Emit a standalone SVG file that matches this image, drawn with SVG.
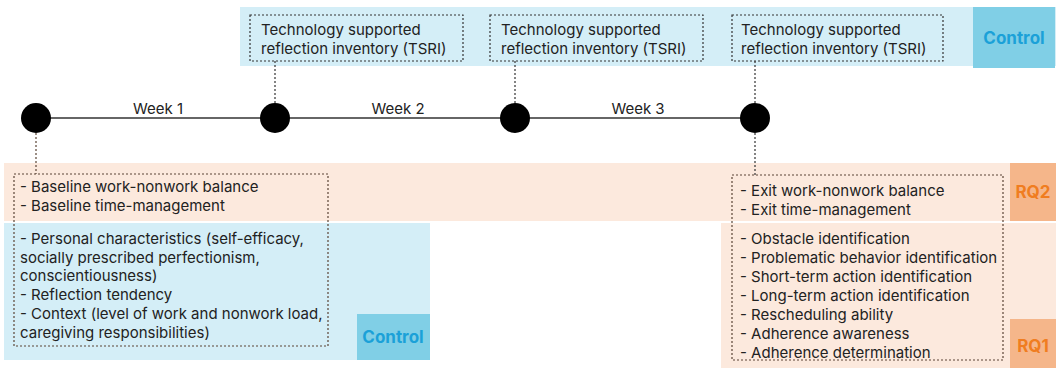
<svg xmlns="http://www.w3.org/2000/svg" width="1062" height="368" viewBox="0 0 1062 368">
<style>
text{font-family:Inter,"Noto Sans","Liberation Sans",sans-serif;font-size:15px;fill:#222}
.lbl{font-weight:700;font-size:17px}
.ctl{fill:#1ba1d8}
.rq{fill:#f07d20}
.dash{fill:none;stroke:#333;stroke-width:1.2;stroke-dasharray:2 2}
.dashb{fill:none;stroke:#5a4536;stroke-width:1.2;stroke-dasharray:2 2}
.blue{fill:#d4eef7}
.blued{fill:#80cfe6}
.peach{fill:#fce9dd}
.peachd{fill:#f5b68a}
</style>
<g id="bands">
<rect class="blue" x="240" y="7" width="816" height="59"/>
<rect class="blued" x="973" y="7" width="82" height="61"/>
<text class="lbl ctl" x="1014" y="44" text-anchor="middle">Control</text>
<rect class="peach" x="4" y="163" width="1006" height="58"/>
<rect class="peachd" x="1010" y="163" width="46" height="58"/>
<text class="lbl rq" x="1033" y="198" text-anchor="middle">RQ2</text>
<rect class="blue" x="4" y="223" width="426" height="137"/>
<rect class="blued" x="357" y="314" width="73" height="46"/>
<text class="lbl ctl" x="393" y="343" text-anchor="middle">Control</text>
<rect class="peach" x="721" y="223" width="335" height="145"/>
<rect class="peachd" x="1010" y="319" width="46" height="49"/>
<text class="lbl rq" x="1033" y="352" text-anchor="middle">RQ1</text>
</g>
<g id="connectors">
<line x1="36" y1="118" x2="755" y2="118" stroke="#333" stroke-width="1.5"/>
<line class="dash" x1="275" y1="61" x2="275" y2="103"/>
<line class="dash" x1="515" y1="61" x2="515" y2="103"/>
<line class="dash" x1="755" y1="61" x2="755" y2="103"/>
<line class="dashb" x1="36" y1="133" x2="36" y2="174"/>
<line class="dash" x1="755" y1="133" x2="755" y2="175"/>
</g>
<g id="timeline">
<circle cx="36" cy="118" r="15" fill="#000"/>
<circle cx="275" cy="118" r="15" fill="#000"/>
<circle cx="515" cy="118" r="15" fill="#000"/>
<circle cx="755" cy="118" r="15" fill="#000"/>
<text x="158" y="114" text-anchor="middle">Week 1</text>
<text x="398" y="114" text-anchor="middle">Week 2</text>
<text x="638" y="114" text-anchor="middle">Week 3</text>
</g>
<g id="tsri1">
<rect class="dash" x="250" y="15" width="213" height="46"/>
<text x="261" y="35">Technology supported</text>
<text x="261" y="54">reflection inventory (TSRI)</text>
</g>
<g id="tsri2">
<rect class="dash" x="490" y="15" width="213" height="46"/>
<text x="501" y="35">Technology supported</text>
<text x="501" y="54">reflection inventory (TSRI)</text>
</g>
<g id="tsri3">
<rect class="dash" x="732" y="15" width="211" height="46"/>
<text x="741" y="35">Technology supported</text>
<text x="741" y="54">reflection inventory (TSRI)</text>
</g>
<g id="baseline">
<rect class="dashb" x="14" y="174" width="314" height="172"/>
<text x="20" y="192">- Baseline work-nonwork balance</text>
<text x="20" y="211">- Baseline time-management</text>
<text x="20" y="244">- Personal characteristics (self-efficacy,</text>
<text x="20" y="263">socially prescribed perfectionism,</text>
<text x="20" y="281">conscientiousness)</text>
<text x="20" y="300">- Reflection tendency</text>
<text x="20" y="319">- Context (level of work and nonwork load,</text>
<text x="20" y="338">caregiving responsibilities)</text>
</g>
<g id="exit">
<rect class="dashb" x="732" y="175" width="271" height="185"/>
<text x="740" y="196">- Exit work-nonwork balance</text>
<text x="740" y="215">- Exit time-management</text>
<text x="740" y="244">- Obstacle identification</text>
<text x="740" y="263">- Problematic behavior identification</text>
<text x="740" y="282">- Short-term action identification</text>
<text x="740" y="301">- Long-term action identification</text>
<text x="740" y="320">- Rescheduling ability</text>
<text x="740" y="339">- Adherence awareness</text>
<text x="740" y="358">- Adherence determination</text>
</g>
</svg>
